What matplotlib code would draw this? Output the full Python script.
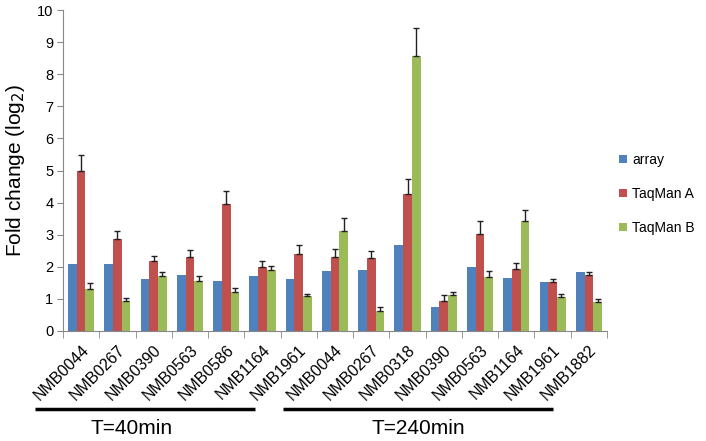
import numpy as np
import matplotlib.pyplot as plt
from matplotlib.lines import Line2D

plt.rcParams['font.family'] = ['Liberation Sans', 'DejaVu Sans']

genes = ['NMB0044', 'NMB0267', 'NMB0390', 'NMB0563', 'NMB0586', 'NMB1164', 'NMB1961',
         'NMB0044', 'NMB0267', 'NMB0318', 'NMB0390', 'NMB0563', 'NMB1164', 'NMB1961', 'NMB1882']

array_vals = [2.08, 2.08, 1.62, 1.74, 1.56, 1.70, 1.62, 1.86, 1.90, 2.67, 0.76, 1.99, 1.65, 1.54, 1.84]
taqA_vals = [5.00, 2.86, 2.18, 2.29, 3.97, 1.99, 2.41, 2.29, 2.26, 4.26, 0.94, 3.03, 1.93, 1.53, 1.73]
taqA_err = [0.47, 0.27, 0.17, 0.22, 0.39, 0.19, 0.26, 0.25, 0.22, 0.46, 0.17, 0.41, 0.18, 0.10, 0.10]
taqB_vals = [1.32, 0.93, 1.71, 1.56, 1.21, 1.90, 1.10, 3.13, 0.62, 8.57, 1.11, 1.68, 3.42, 1.07, 0.90]
taqB_err = [0.16, 0.11, 0.14, 0.14, 0.14, 0.14, 0.04, 0.39, 0.12, 0.86, 0.12, 0.19, 0.36, 0.07, 0.09]

blue = '#4F81BD'
red = '#C0504D'
green = '#9BBB59'

fig = plt.figure(figsize=(7.06, 4.41), dpi=100)
ax = fig.add_axes([63/706, 1 - 331/441, 544/706, 321/441])

x = np.arange(len(genes))
w = 0.24
zeros = np.zeros(len(genes))
ekw = dict(ecolor='#222222', elinewidth=1, capsize=2.3, capthick=1)
ax.bar(x - w, array_vals, w, color=blue, label='array')
ax.bar(x, taqA_vals, w, color=red, label='TaqMan A', yerr=[zeros, taqA_err], error_kw=ekw)
ax.bar(x + w, taqB_vals, w, color=green, label='TaqMan B', yerr=[zeros, taqB_err], error_kw=ekw)

ax.set_xlim(-0.5, len(genes) - 0.5)
ax.set_ylim(0, 10)
ax.set_yticks(range(0, 11))
ax.tick_params(axis='y', labelsize=10.5, length=4, color='#888888', pad=3)
ax.set_xticks(x)
ax.set_xticklabels(genes, rotation=45, ha='right', rotation_mode='anchor', fontsize=11.5)
ax.tick_params(axis='x', which='major', length=0, pad=8)
ax.set_xticks(np.arange(-0.5, len(genes)), minor=True)
ax.tick_params(axis='x', which='minor', length=5, color='#888888')

for s in ['top', 'right']:
    ax.spines[s].set_visible(False)
for s in ['left', 'bottom']:
    ax.spines[s].set_color('#888888')

ax.set_ylabel('Fold change (log$_2$)', fontsize=15)
ax.yaxis.set_label_coords(-36/544, 0.5)

fig.legend(loc='center left', bbox_to_anchor=(619/706, 1 - 194/441), frameon=False, fontsize=10,
           handlelength=0.55, handleheight=0.55, labelspacing=1.45, handletextpad=0.4,
           borderpad=0, borderaxespad=0)

fig.add_artist(Line2D([35/706, 255/706], [1 - 409/441] * 2, color='black', lw=2.5, solid_capstyle='butt'))
fig.add_artist(Line2D([283/706, 553/706], [1 - 409/441] * 2, color='black', lw=2.5, solid_capstyle='butt'))
fig.text(132/706, 1 - 428/441, 'T=40min', fontsize=15, ha='center', va='center')
fig.text(418/706, 1 - 428/441, 'T=240min', fontsize=15, ha='center', va='center')

fig.savefig('out.png', dpi=100)
